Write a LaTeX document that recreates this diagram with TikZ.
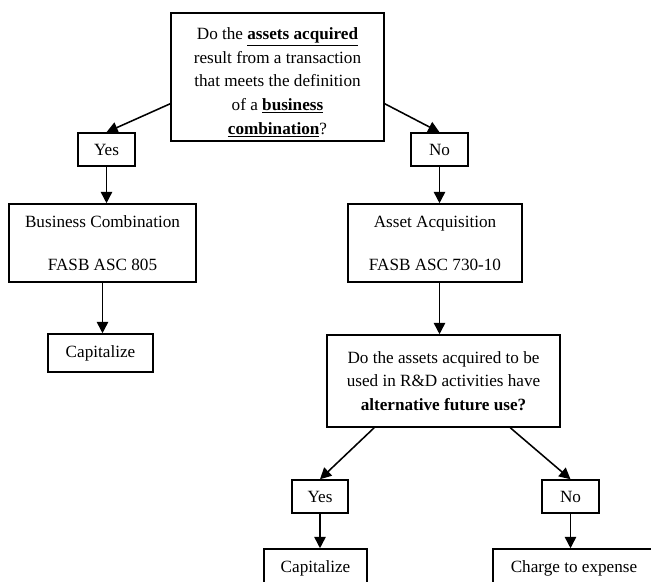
\documentclass[tikz,border=0pt]{standalone}
\usepackage{fontspec}
\setmainfont{Liberation Serif}
\usetikzlibrary{arrows.meta}

\tikzset{
  qbox/.style={
    rectangle, draw=black, fill=white,
    minimum width=#1, inner sep=0pt,
    align=center, line width=1.1pt,
    font=\fontsize{12.2}{16.9}\selectfont
  },
  qbox/.default=5.3cm,
  ansbox/.style={
    rectangle, draw=black, fill=white,
    minimum width=1.42cm, minimum height=0.825cm,
    inner sep=0pt, align=center, line width=1.1pt,
    font=\fontsize{12.2}{16.9}\selectfont
  },
  stepbox/.style={
    rectangle, draw=black, fill=white,
    minimum width=#1, minimum height=0.95cm,
    inner sep=0pt, align=center, line width=1.1pt,
    font=\fontsize{12.2}{16.9}\selectfont
  },
  stepbox/.default=2.6cm,
  arrow/.style={-{Triangle[length=8pt,width=8pt]}, line width=1.1pt, black}
}

\begin{document}
\begin{tikzpicture}[x=0.025cm, y=-0.025cm]

  \clip (0,0) rectangle (651,581);

  % First question
  \node[qbox=5.325cm, minimum height=3.2cm] (top) at (277.5,77)
    {\rule{0pt}{16pt}Do the \underline{\textbf{assets acquired}}\\
     result from a transaction\\
     that meets the definition\\
     of a \underline{\textbf{business}}\\
     \underline{\textbf{combination}}?};

  \node[ansbox] (yes1) at (106.5,149.5) {Yes};
  \node[ansbox] (no1)  at (439.5,149.5) {No};

  % Business combination branch
  \node[stepbox=4.675cm, minimum height=1.95cm] (bc) at (102.5,243)
    {Business Combination\\[13.7pt] FASB ASC 805};
  \node[stepbox=2.625cm] (cap1) at (100.5,353) {Capitalize};

  % Asset acquisition branch
  \node[stepbox=4.35cm, minimum height=1.95cm] (aa) at (435,243)
    {Asset Acquisition\\[13.7pt] FASB ASC 730-10};

  \node[qbox=5.825cm, minimum height=2.3cm] (q2) at (443.5,381)
    {Do the assets acquired to be\\
     used in R\&D activities have\\
     \textbf{alternative future use?}};

  \node[ansbox, minimum width=1.4cm] (yes2) at (320,496.5) {Yes};
  \node[ansbox] (no2) at (570.5,496.5) {No};

  \node[stepbox=2.575cm] (cap2)   at (315.5,568) {Capitalize};
  \node[stepbox=4.05cm]  (charge) at (574,568)   {Charge to expense};

  % Connectors
  \draw[arrow] (top.194) -- (yes1.north);
  \draw[arrow] (top.346) -- (no1.north);
  \draw[arrow] (yes1.south) -- (yes1.south |- bc.north);
  \draw[arrow] (bc.south) -- (bc.south |- cap1.north);
  \draw[arrow] (no1.south) -- (no1.south |- aa.north);
  \draw[arrow] (aa.south -| no1.south) -- (no1.south |- q2.north);
  \draw[arrow] (q2.214) -- (yes2.north);
  \draw[arrow] (q2.325) -- (no2.north);
  \draw[arrow] (yes2.south) -- (yes2.south |- cap2.north);
  \draw[arrow] (no2.south) -- (no2.south |- charge.north);

\end{tikzpicture}
\end{document}
